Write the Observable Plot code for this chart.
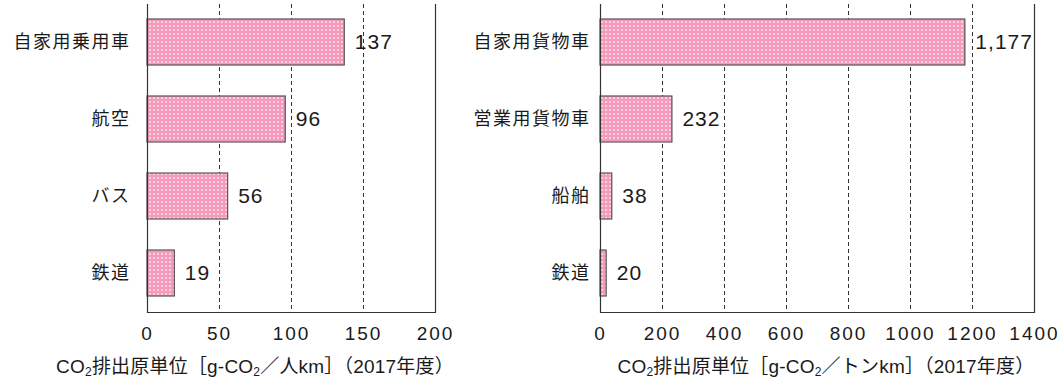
<!DOCTYPE html>
<html>
<head>
<meta charset="utf-8">
<script src="https://cdn.jsdelivr.net/npm/d3@7"></script>
<script src="https://cdn.jsdelivr.net/npm/@observablehq/plot@0.6"></script>
<style>
  body { margin: 0; background: #fff; }
  #wrap { position: relative; width: 1063px; height: 382px; overflow: hidden; }
  .panel { position: absolute; top: 0; }
  .cap {
    position: absolute; top: 351px; transform: translateX(-50%);
    font-family: "Liberation Sans", "Noto Sans CJK JP", sans-serif;
    font-size: 19px; color: #1a1a1a; white-space: nowrap; letter-spacing: 0.2px;
  }
  .cap sub { font-size: 12px; vertical-align: -3px; line-height: 0; }
  .panel g[aria-label="y-axis tick label"] text { letter-spacing: 1.5px; }
  .panel g[aria-label="x-axis tick label"] text { letter-spacing: 2px; }
  .panel g[aria-label="text"] text { letter-spacing: 1px; }
</style>
</head>
<body>
<div id="wrap"></div>
<script>
// Passenger transport: CO2 per passenger-km (FY2017)
const passengerModes = ["自家用乗用車", "航空", "バス", "鉄道"];
const passengerValues = [137, 96, 56, 19];
const passengerTicks = [0, 50, 100, 150, 200];

// Freight transport: CO2 per tonne-km (FY2017)
const freightModes = ["自家用貨物車", "営業用貨物車", "船舶", "鉄道"];
const freightValues = [1177, 232, 38, 20];
const freightTicks = [0, 200, 400, 600, 800, 1000, 1200, 1400];

const wrap = document.getElementById("wrap");
const fmt = d3.format(",");

function panel({modes, values, ticks, left, width, marginLeft, marginRight, tickPadding, id}) {
  const rows = modes.map((m, i) => ({mode: m, value: values[i]}));
  const max = ticks[ticks.length - 1];
  const inner = ticks.slice(1, -1);
  const chart = Plot.plot({
    width, height: 345,
    marginLeft, marginRight, marginTop: 4, marginBottom: 33,
    style: {fontFamily: "'Liberation Sans', 'Noto Sans CJK JP', sans-serif", color: "#1a1a1a", background: "transparent"},
    x: {domain: [0, max]},
    y: {domain: modes, paddingInner: 0.4, paddingOuter: 0.2},
    marks: [
      Plot.ruleX(inner, {stroke: "#333", strokeWidth: 1, strokeDasharray: "4,3"}),
      Plot.barX(rows, {x: "value", y: "mode", fill: `url(#${id})`, stroke: "#555", strokeWidth: 1.2}),
      Plot.ruleX([0, max], {stroke: "#333", strokeWidth: 1.2}),
      Plot.frame({anchor: "bottom", stroke: "#333", strokeWidth: 1.2}),
      Plot.text(rows, {x: "value", y: "mode", text: d => fmt(d.value), dx: 10, textAnchor: "start", fontSize: 21, fill: "#1a1a1a"}),
      Plot.axisX({ticks, tickSize: 0, tickPadding: 14, fontSize: 19, label: null, tickFormat: d => String(d)}),
      Plot.axisY({tickSize: 0, tickPadding, fontSize: 18, label: null, fontFamily: "'Noto Sans CJK JP', sans-serif"})
    ]
  });
  // dotted pink fill used by the bars
  const ns = "http://www.w3.org/2000/svg";
  const defs = document.createElementNS(ns, "defs");
  const pat = document.createElementNS(ns, "pattern");
  pat.setAttribute("id", id);
  pat.setAttribute("width", 4);
  pat.setAttribute("height", 4);
  pat.setAttribute("patternUnits", "userSpaceOnUse");
  const bg = document.createElementNS(ns, "rect");
  bg.setAttribute("width", 4); bg.setAttribute("height", 4); bg.setAttribute("fill", "#f59abb");
  const dot = document.createElementNS(ns, "rect");
  dot.setAttribute("x", 1); dot.setAttribute("y", 1);
  dot.setAttribute("width", 2); dot.setAttribute("height", 2); dot.setAttribute("fill", "#fbcfdf");
  pat.append(bg, dot);
  defs.append(pat);
  chart.prepend(defs);
  const div = document.createElement("div");
  div.className = "panel";
  div.style.left = left + "px";
  div.append(chart);
  wrap.append(div);
}

panel({modes: passengerModes, values: passengerValues, ticks: passengerTicks,
  left: 0, width: 460, marginLeft: 147, marginRight: 25, tickPadding: 17, id: "dotsP"});
panel({modes: freightModes, values: freightValues, ticks: freightTicks,
  left: 460, width: 603, marginLeft: 140, marginRight: 29, tickPadding: 10, id: "dotsF"});

function caption(html, center) {
  const c = document.createElement("div");
  c.className = "cap";
  c.style.left = center + "px";
  c.innerHTML = html;
  wrap.append(c);
}
caption("CO<sub>2</sub>排出原単位［g-CO<sub>2</sub>／人km］（2017年度）", 255);
caption("CO<sub>2</sub>排出原単位［g-CO<sub>2</sub>／トンkm］（2017年度）", 826);
</script>
</body>
</html>
